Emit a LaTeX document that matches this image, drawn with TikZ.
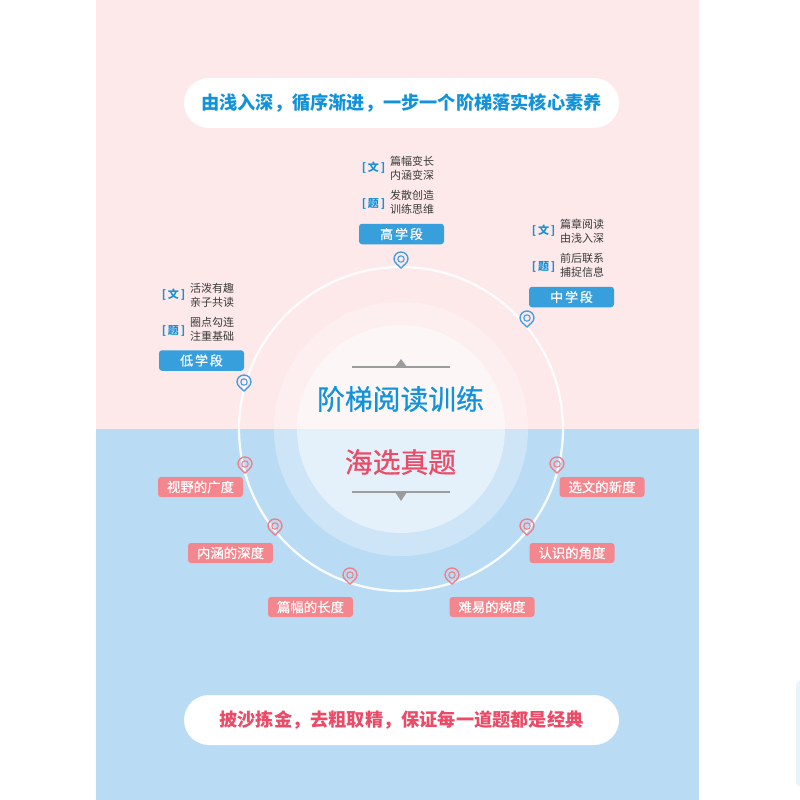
\documentclass[tikz,border=0pt]{standalone}
\usepackage{fontspec}
\setmainfont{Noto Sans CJK SC}
\newfontfamily\widecjk[LetterSpace=14, FakeBold=0.6]{Noto Sans CJK SC}
\newfontfamily\midcjk[FakeBold=0.6]{Noto Sans CJK SC}
\usetikzlibrary{positioning, calc}
\definecolor{panelpink}{HTML}{FDE9E9}
\definecolor{panelblue}{HTML}{B9DBF4}
\definecolor{stageblue}{HTML}{369FDC}
\definecolor{facetpink}{HTML}{F4868E}
\definecolor{textblue}{HTML}{1392DC}
\definecolor{textred}{HTML}{EC4A66}
\definecolor{pinblue}{HTML}{4A9FE0}
\definecolor{pinred}{HTML}{EF7F88}
\definecolor{barmark}{HTML}{9C9C9C}
\definecolor{bodyink}{HTML}{3A3A3A}
\definecolor{edgeblue}{HTML}{E8F3FC}
\tikzset{
  mapmark/.pic={
    \draw[line width=1.4pt, draw=#1] (0,9) .. controls (-2,6.5) and (-7,4) .. (-7,0)
      .. controls (-7,-3.9) and (-3.9,-7) .. (0,-7)
      .. controls (3.9,-7) and (7,-3.9) .. (7,0)
      .. controls (7,4) and (2,6.5) .. (0,9) -- cycle;
    \draw[line width=1.1pt, draw=#1] (0,0) circle (3.2pt);
  },
  stagebox/.style={fill=stageblue, text=white, rounded corners=3pt, minimum width=85pt, minimum height=20.5pt, inner sep=0pt, font=\widecjk\fontsize{13}{13}\selectfont},
  facetbox/.style={fill=facetpink, text=white, rounded corners=3pt, minimum width=85pt, minimum height=20pt, inner sep=0pt, font=\midcjk\fontsize{13.4}{13.4}\selectfont},
  tagtext/.style={text=textblue, inner sep=0pt, font=\bfseries\fontsize{11}{11}\selectfont},
  bodytext/.style={text=bodyink, inner sep=0pt, align=center, font=\fontsize{11}{14}\selectfont},
  pillbox/.style={fill=white, rounded corners=25pt, minimum width=435pt, minimum height=50pt, inner sep=0pt, font=\bfseries\fontsize{18.2}{18.2}\selectfont},
  titletext/.style={inner sep=0pt, font=\midcjk\fontsize{27.8}{27.8}\selectfont},
}
\begin{document}
\begin{tikzpicture}[x=1pt, y=-1pt]
  \useasboundingbox (0,0) rectangle (800,800);

  \fill[white] (0,0) rectangle (800,800);
  \fill[panelpink] (95.5,0) rectangle (699,429);
  \fill[panelblue] (95.5,429) rectangle (699,800);
  \fill[edgeblue, rounded corners=6pt] (796,680) rectangle (812,787);

  \coordinate (hub) at (401,429);
  \fill[white, opacity=0.3] (hub) circle (127pt);
  \fill[white, opacity=0.45] (hub) circle (104pt);
  \draw[white, line width=2.3pt, opacity=0.9] (hub) circle (162pt);

  \node[pillbox, text=textblue] (slogantop) at (401.5,103) {由浅入深，循序渐进，一步一个阶梯落实核心素养};
  \node[pillbox, text=textred] (sloganbottom) at (401.5,720) {披沙拣金，去粗取精，保证每一道题都是经典};

  \node[titletext, text=textblue] (titleread) at (400.5,399) {阶梯阅读训练};
  \node[titletext, text=textred] (titlereal) at (400.5,462) {海选真题};

  \draw[barmark, line width=1.2pt] (352,367) -- (450,367);
  \fill[barmark] (395,367) -- (401,359) -- (407,367) -- cycle;
  \draw[barmark, line width=1.2pt] (352,492) -- (450,492);
  \fill[barmark] (395,492) -- (401,501) -- (407,492) -- cycle;

  \foreach \name/\x/\y in {high/401/259, mid/527/318, low/244/382} {
    \coordinate (pin\name) at (\x,\y);
    \pic at (pin\name) {mapmark=pinblue};
  }
  \foreach \name/\x/\y in {wide/245/464, fresh/557/464, deep/275/526, angle/527/526, long/350/575, slope/452/575} {
    \coordinate (pin\name) at (\x,\y);
    \pic at (pin\name) {mapmark=pinred};
  }

  \node[stagebox] (stagehigh) at (401.5,234) {高学段};
  \node[stagebox] (stagemid) at (571.5,297) {中学段};
  \node[stagebox] (stagelow) at (201.5,360.5) {低学段};

  \node[tagtext] (wenhigh) at (373.5,167.5) {[\,文\,]};
  \node[bodytext] (readhigh) at (412,168.5) {篇幅变长\\内涵变深};
  \node[tagtext] (tihigh) at (373.5,203.5) {[\,题\,]};
  \node[bodytext] (taskhigh) at (412,202.5) {发散创造\\训练思维};

  \node[tagtext] (wenmid) at (543.5,230.5) {[\,文\,]};
  \node[bodytext] (readmid) at (582,231.5) {篇章阅读\\由浅入深};
  \node[tagtext] (timid) at (543.5,266.5) {[\,题\,]};
  \node[bodytext] (taskmid) at (582,265.5) {前后联系\\捕捉信息};

  \node[tagtext] (wenlow) at (173.5,294.5) {[\,文\,]};
  \node[bodytext] (readlow) at (212,295.5) {活泼有趣\\亲子共读};
  \node[tagtext] (tilow) at (173.5,330.5) {[\,题\,]};
  \node[bodytext] (tasklow) at (212,329.5) {圈点勾连\\注重基础};

  \node[facetbox] (facetwide) at (200.5,487) {视野的广度};
  \node[facetbox] (facetfresh) at (602,487) {选文的新度};
  \node[facetbox] (facetdeep) at (230.5,553) {内涵的深度};
  \node[facetbox] (facetangle) at (572,553) {认识的角度};
  \node[facetbox] (facetlong) at (310.5,607) {篇幅的长度};
  \node[facetbox] (facetslope) at (492,607) {难易的梯度};
\end{tikzpicture}
\end{document}
